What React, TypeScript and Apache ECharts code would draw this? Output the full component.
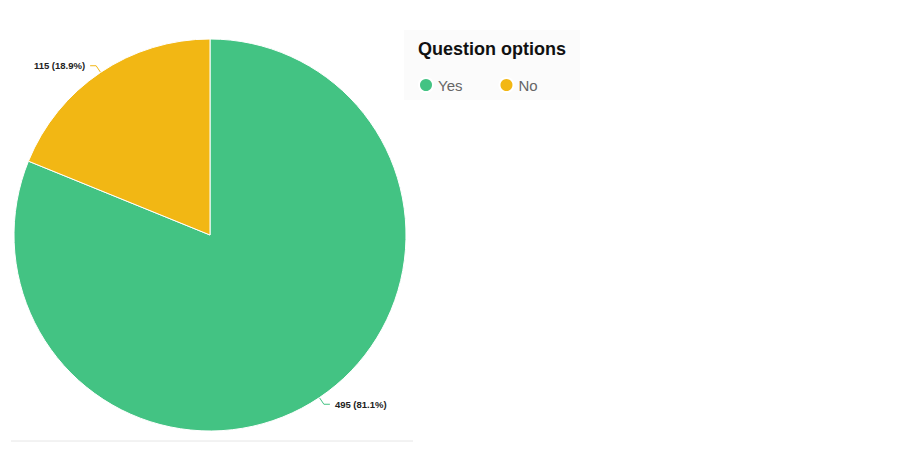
import React, { useEffect, useRef } from 'react';
import * as echarts from 'echarts';

const categories = ['Yes', 'No'];
const counts = [495, 115];
const colors = ['#43c383', '#f2b714'];
const legendTitle = 'Question options';

const App: React.FC = () => {
  const chartRef = useRef<HTMLDivElement>(null);

  useEffect(() => {
    if (!chartRef.current) return;
    const chart = echarts.init(chartRef.current, undefined, { renderer: 'svg' });

    const option: echarts.EChartsOption = {
      animation: false,
      backgroundColor: '#ffffff',
      graphic: [
        {
          type: 'rect',
          shape: { x: 404, y: 30, width: 176, height: 70 },
          style: { fill: '#fbfbfb' },
          z: -1,
        },
        {
          type: 'line',
          shape: { x1: 11, y1: 441, x2: 413, y2: 441 },
          style: { stroke: '#e6e6e6', lineWidth: 1 },
        },
        {
          type: 'text',
          left: 418,
          top: 40,
          style: {
            text: legendTitle,
            font: 'bold 18px "Liberation Sans", Arial, sans-serif',
            fill: '#111111',
          },
        },
      ],
      legend: {
        data: categories,
        left: 413,
        top: 72,
        icon: 'circle',
        itemWidth: 14,
        itemHeight: 14,
        itemGap: 36,
        textStyle: {
          color: '#666666',
          fontSize: 15,
          fontFamily: '"Liberation Sans", Arial, sans-serif',
        },
      },
      series: [
        {
          type: 'pie',
          center: [210, 235],
          radius: 196,
          startAngle: 90,
          clockwise: true,
          percentPrecision: 1,
          itemStyle: { borderColor: '#ffffff', borderWidth: 1 },
          label: {
            formatter: '{c} ({d}%)',
            color: '#222222',
            fontSize: 9.5,
            fontWeight: 'bold',
            fontFamily: '"Liberation Sans", Arial, sans-serif',
          },
          labelLine: { length: 8, length2: 6, lineStyle: { width: 1 } },
          data: categories.map((name, i) => ({
            name,
            value: counts[i],
            itemStyle: { color: colors[i] },
          })),
        },
      ],
    };

    chart.setOption(option);
    return () => chart.dispose();
  }, []);

  return (
    <div
      ref={chartRef}
      style={{ position: 'fixed', left: 0, top: 0, width: '900px', height: '454px' }}
    />
  );
};

export default App;
